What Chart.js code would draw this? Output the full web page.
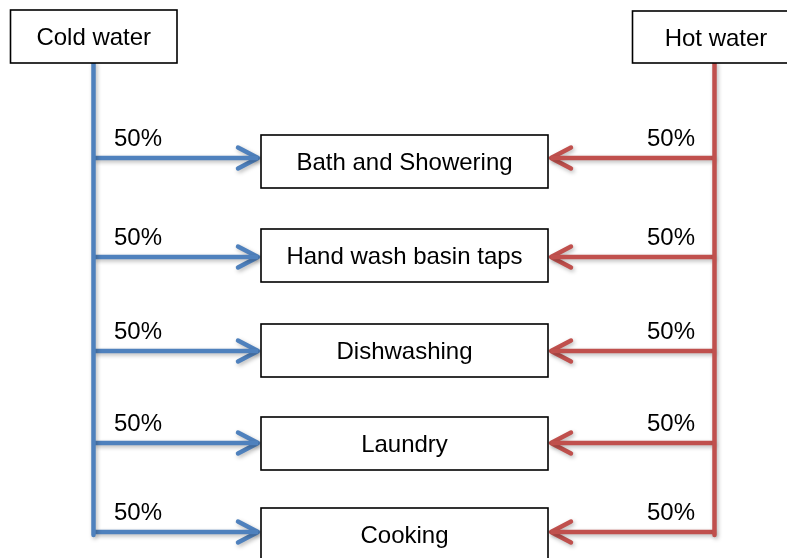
<!DOCTYPE html>
<html><head><meta charset="utf-8">
<script src="https://cdn.jsdelivr.net/npm/chart.js@4/dist/chart.umd.min.js"></script>
<style>html,body{margin:0;padding:0;background:#fff;overflow:hidden}#wrap{width:787px;height:558px;position:relative}</style>
</head><body><div id="wrap"><canvas id="c" width="787" height="558"></canvas></div>
<script>
// ---- data ----
const categories = ['Bath and Showering', 'Hand wash basin taps', 'Dishwashing', 'Laundry', 'Cooking'];
const coldShare = [50, 50, 50, 50, 50];
const hotShare = [50, 50, 50, 50, 50];
const sources = ['Cold water', 'Hot water'];

// ---- layout (diagram units = px) ----
const L = {
  W: 787, H: 558,
  coldX: 93.5, hotX: 714.5,
  coldBox: { x0: 10.5, x1: 177, y0: 10, y1: 63 },
  hotBox: { x0: 632.5, x1: 800, y0: 11, y1: 63 },
  trunkBottom: 535,
  boxX0: 261, boxX1: 548, boxH: 53,
  boxTop: [135, 229, 324, 417, 508],
  arrowY: [158, 257, 351, 443, 532],
  headLen: 20, headHalf: 10.5,
  labelGap: 12, coldLabelX: 114, hotLabelX: 695
};
const BLUE = '#4F81BD', RED = '#C0504D';
const FONT = '24px "Liberation Sans", Arial, sans-serif';

function lineDs(points, color) {
  return { data: points, borderColor: color, borderWidth: 4.5, pointRadius: 0, showLine: true,
           fill: false, tension: 0, borderCapStyle: 'butt', borderJoinStyle: 'round', clip: false };
}
const datasets = [];
datasets.push(lineDs([{x: L.coldX, y: L.coldBox.y1}, {x: L.coldX, y: L.trunkBottom}], BLUE));
datasets.push(lineDs([{x: L.hotX, y: L.hotBox.y1}, {x: L.hotX, y: L.trunkBottom}], RED));
categories.forEach((c, i) => {
  const y = L.arrowY[i];
  const tipL = L.boxX0 - 3, tipR = L.boxX1 + 3;
  datasets.push(lineDs([{x: L.coldX, y}, {x: tipL, y}], BLUE));
  const hb = lineDs([{x: tipL - L.headLen, y: y - L.headHalf}, {x: tipL, y}, {x: tipL - L.headLen, y: y + L.headHalf}], BLUE);
  hb.borderCapStyle = 'round';
  datasets.push(hb);
  datasets.push(lineDs([{x: L.hotX, y}, {x: tipR, y}], RED));
  const hr = lineDs([{x: tipR + L.headLen, y: y - L.headHalf}, {x: tipR, y}, {x: tipR + L.headLen, y: y + L.headHalf}], RED);
  hr.borderCapStyle = 'round';
  datasets.push(hr);
});

const shadowPlugin = {
  id: 'shadow',
  beforeDatasetDraw(chart) {
    const ctx = chart.ctx;
    ctx.save();
    ctx.shadowColor = 'rgba(0,0,0,0.28)';
    ctx.shadowBlur = 4;
    ctx.shadowOffsetX = 1.5;
    ctx.shadowOffsetY = 2;
  },
  afterDatasetDraw(chart) { chart.ctx.restore(); }
};

const boxPlugin = {
  id: 'boxes',
  afterDatasetsDraw(chart) {
    const ctx = chart.ctx, xs = chart.scales.x, ys = chart.scales.y;
    const px = v => xs.getPixelForValue(v), py = v => ys.getPixelForValue(v);
    ctx.save();
    ctx.font = FONT;
    ctx.lineWidth = 1.6;
    ctx.strokeStyle = '#000';
    function box(x0, y0, x1, y1, text) {
      const X0 = px(x0), Y0 = py(y0), X1 = px(x1), Y1 = py(y1);
      ctx.fillStyle = '#fff';
      ctx.fillRect(X0, Y0, X1 - X0, Y1 - Y0);
      ctx.strokeRect(X0, Y0, X1 - X0, Y1 - Y0);
      ctx.fillStyle = '#000';
      ctx.textAlign = 'center';
      ctx.textBaseline = 'alphabetic';
      const cx = (X0 + Math.min(X1, chart.width + 0)) / 2;
      ctx.fillText(text, cx, (Y0 + Y1) / 2 + 8.5);
    }
    const cb = L.coldBox, hb = L.hotBox;
    box(cb.x0, cb.y0, cb.x1, cb.y1, sources[0]);
    // hot box text centred on its trunk
    {
      const X0 = px(hb.x0), Y0 = py(hb.y0), X1 = px(hb.x1), Y1 = py(hb.y1);
      ctx.fillStyle = '#fff'; ctx.fillRect(X0, Y0, X1 - X0, Y1 - Y0);
      ctx.strokeRect(X0, Y0, X1 - X0, Y1 - Y0);
      ctx.fillStyle = '#000'; ctx.textAlign = 'center';
      ctx.fillText(sources[1], px(L.hotX + 1.5), (Y0 + Y1) / 2 + 8.5);
    }
    categories.forEach((c, i) => {
      box(L.boxX0, L.boxTop[i], L.boxX1, L.boxTop[i] + L.boxH, c);
      const by = py(L.arrowY[i] - L.labelGap);
      ctx.fillStyle = '#000';
      ctx.textAlign = 'left';
      ctx.fillText(coldShare[i] + '%', px(L.coldLabelX), by);
      ctx.textAlign = 'right';
      ctx.fillText(hotShare[i] + '%', px(L.hotLabelX), by);
    });
    ctx.restore();
  }
};

new Chart(document.getElementById('c'), {
  type: 'scatter',
  data: { datasets },
  options: {
    responsive: false, animation: false, events: [],
    layout: { padding: 0 },
    plugins: { legend: { display: false }, tooltip: { enabled: false }, title: { display: false } },
    scales: {
      x: { type: 'linear', min: 0, max: L.W, display: false },
      y: { type: 'linear', min: 0, max: L.H, reverse: true, display: false }
    }
  },
  plugins: [shadowPlugin, boxPlugin]
});
</script></body></html>
